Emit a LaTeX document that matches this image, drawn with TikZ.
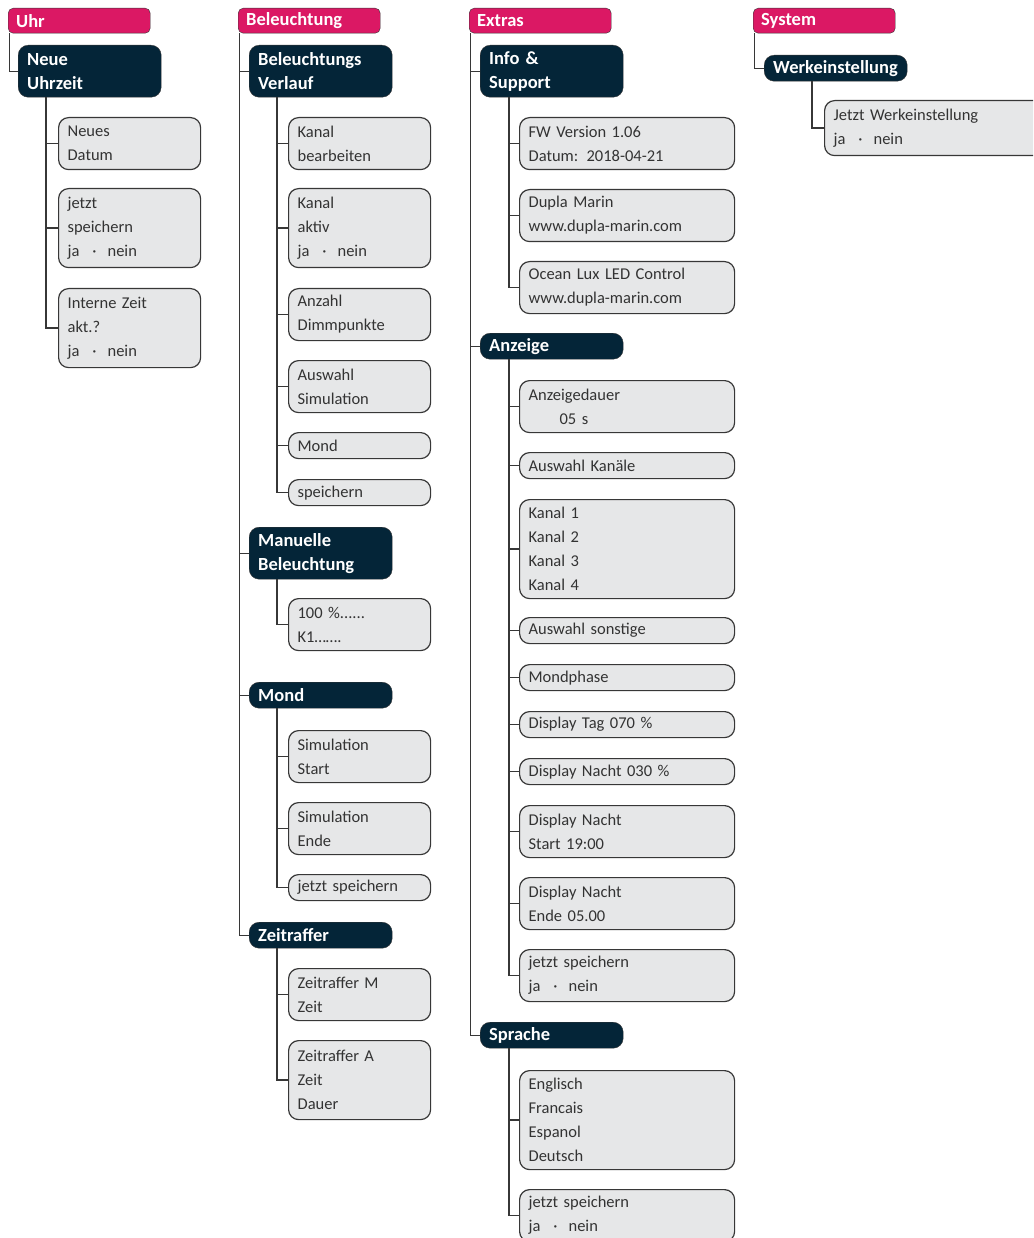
\documentclass[tikz,border=0pt]{standalone}
\usepackage{fontspec}
\setmainfont{Carlito}
\usepackage{tikz}
\usetikzlibrary{positioning}
\definecolor{menupink}{RGB}{219,24,100}
\definecolor{subnavy}{RGB}{4,37,56}
\definecolor{entrygray}{RGB}{230,231,232}
\definecolor{linegray}{RGB}{55,55,55}
\newcommand{\janein}{ja\hspace{13pt}·\hspace{11pt}nein}

\begin{document}
\begin{tikzpicture}[x=1pt,y=-1pt,
  menu/.style={draw=linegray,fill=menupink,rounded corners=5pt,anchor=north west,
    inner xsep=8pt,inner ysep=0pt,text width=126pt,minimum height=25pt,align=left,
    text=white,font=\fontsize{18.5}{24}\selectfont\bfseries},
  sub/.style={draw=linegray,fill=subnavy,rounded corners=10pt,anchor=north west,
    inner xsep=9pt,inner ysep=0pt,text width=125pt,minimum height=26pt,align=left,
    text=white,font=\fontsize{18.5}{24}\selectfont\bfseries},
  entry/.style={draw=linegray,fill=entrygray,rounded corners=10pt,anchor=north west,
    inner xsep=9pt,inner ysep=0pt,text width=#1,minimum height=26pt,align=left,
    text=black!80,font=\fontsize{16.5}{24}\selectfont,line width=1.2pt},
  entry/.default=124pt,
  conn/.style={draw=linegray,line width=1.3pt}]
\clip (0,0) rectangle (1033,1238);
% Uhr
\node[menu] (uhr) at (8,8) {Uhr};
\node[sub,minimum height=52pt] (neueuhr) at (18,45) {Neue\\Uhrzeit};
\node[entry,minimum height=52pt] (datum) at (58,117) {Neues\\Datum};
\node[entry,minimum height=79pt] (uhrspeichern) at (58,188) {jetzt\\speichern\\\janein};
\node[entry,minimum height=79pt] (intern) at (58,288) {Interne Zeit\\akt.?\\\janein};
% Beleuchtung
\node[menu] (bel) at (238,8) {Beleuchtung};
\node[sub,minimum height=52pt] (verlauf) at (249,45) {Beleuchtungs\\Verlauf};
\node[entry,minimum height=52pt] (kanalbearb) at (288,117) {Kanal\\bearbeiten};
\node[entry,minimum height=79pt] (kanalaktiv) at (288,188) {Kanal\\aktiv\\\janein};
\node[entry,minimum height=52pt] (dimmpunkte) at (288,288) {Anzahl\\Dimmpunkte};
\node[entry,minimum height=52pt] (simulation) at (288,360) {Auswahl\\Simulation};
\node[entry] (verlaufmond) at (288,432) {Mond};
\node[entry] (verlaufspeichern) at (288,479) {speichern};
\node[sub,minimum height=52pt] (manuell) at (249,527) {Manuelle\\Beleuchtung};
\node[entry,minimum height=52pt] (prozent) at (288,598) {100 \%......\\K1…….};
\node[sub] (mond) at (249,682) {Mond};
\node[entry,minimum height=52pt] (simstart) at (288,730) {Simulation\\Start};
\node[entry,minimum height=52pt] (simende) at (288,802) {Simulation\\Ende};
\node[entry] (mondspeichern) at (288,874) {jetzt speichern};
\node[sub] (zeitraffer) at (249,922) {Zeitraffer};
\node[entry,minimum height=52pt] (zeitm) at (288,968) {Zeitraffer M\\Zeit};
\node[entry,minimum height=79pt] (zeita) at (288,1040) {Zeitraffer A\\Zeit\\Dauer};
% Extras
\node[menu] (extras) at (469,8) {Extras};
\node[sub,minimum height=52pt] (info) at (480,45) {Info \&\\Support};
\node[entry=197pt,minimum height=52pt] (fw) at (519,117) {FW Version 1.06\\Datum: 2018-04-21};
\node[entry=197pt,minimum height=52pt] (dupla) at (519,189) {Dupla Marin\\www.dupla-marin.com};
\node[entry=197pt,minimum height=52pt] (ocean) at (519,261) {Ocean Lux LED Control\\www.dupla-marin.com};
\node[sub] (anzeige) at (480,333) {Anzeige};
\node[entry=197pt,minimum height=52pt] (dauer) at (519,380) {Anzeigedauer\\\hspace*{31pt}05 s};
\node[entry=197pt] (kanaele) at (519,452) {Auswahl Kanäle};
\node[entry=197pt,minimum height=99pt] (kanalliste) at (519,499) {Kanal 1\\Kanal 2\\Kanal 3\\Kanal 4};
\node[entry=197pt] (sonstige) at (519,617) {Auswahl sonstige};
\node[entry=197pt] (mondphase) at (519,664) {Mondphase};
\node[entry=197pt] (tag) at (519,711) {Display Tag 070 \%};
\node[entry=197pt] (nacht) at (519,758) {Display Nacht 030 \%};
\node[entry=197pt,minimum height=52pt] (nachtstart) at (519,805) {Display Nacht\\Start 19:00};
\node[entry=197pt,minimum height=52pt] (nachtende) at (519,877) {Display Nacht\\Ende 05.00};
\node[entry=197pt,minimum height=52pt] (anzspeichern) at (519,949) {jetzt speichern\\\janein};
\node[sub] (sprache) at (480,1022) {Sprache};
\node[entry=197pt,minimum height=99pt] (sprachen) at (519,1070) {Englisch\\Francais\\Espanol\\Deutsch};
\node[entry=197pt,minimum height=52pt] (sprspeichern) at (519,1189) {jetzt speichern\\\janein};
% System
\node[menu] (system) at (753,8) {System};
\node[sub] (werk) at (764,55) {Werkeinstellung};
\node[entry=203pt,minimum height=55pt] (werkjetzt) at (824,100) {Jetzt Werkeinstellung\\\janein};
% connectors
\draw[conn] ([xshift=1.5pt]uhr.south west) |- (neueuhr.west);
\foreach \c in {verlauf,manuell,mond,zeitraffer}
  \draw[conn] ([xshift=1.5pt]bel.south west) |- (\c.west);
\foreach \c in {info,anzeige,sprache}
  \draw[conn] ([xshift=1.5pt]extras.south west) |- (\c.west);
\draw[conn] ([xshift=1.5pt]system.south west) |- (werk.west);
\foreach \c in {datum,uhrspeichern,intern}
  \draw[conn] ([xshift=28pt]neueuhr.south west) |- (\c.west);
\foreach \c in {kanalbearb,kanalaktiv,dimmpunkte,simulation,verlaufmond,verlaufspeichern}
  \draw[conn] ([xshift=28pt]verlauf.south west) |- (\c.west);
\draw[conn] ([xshift=28pt]manuell.south west) |- (prozent.west);
\foreach \c in {simstart,simende,mondspeichern}
  \draw[conn] ([xshift=28pt]mond.south west) |- (\c.west);
\foreach \c in {zeitm,zeita}
  \draw[conn] ([xshift=28pt]zeitraffer.south west) |- (\c.west);
\foreach \c in {fw,dupla,ocean}
  \draw[conn] ([xshift=29pt]info.south west) |- (\c.west);
\foreach \c in {dauer,kanaele,kanalliste,sonstige,mondphase,tag,nacht,nachtstart,nachtende,anzspeichern}
  \draw[conn] ([xshift=29pt]anzeige.south west) |- (\c.west);
\foreach \c in {sprachen,sprspeichern}
  \draw[conn] ([xshift=29pt]sprache.south west) |- (\c.west);
\draw[conn] ([xshift=48pt]werk.south west) |- (werkjetzt.west);
\end{tikzpicture}
\end{document}
